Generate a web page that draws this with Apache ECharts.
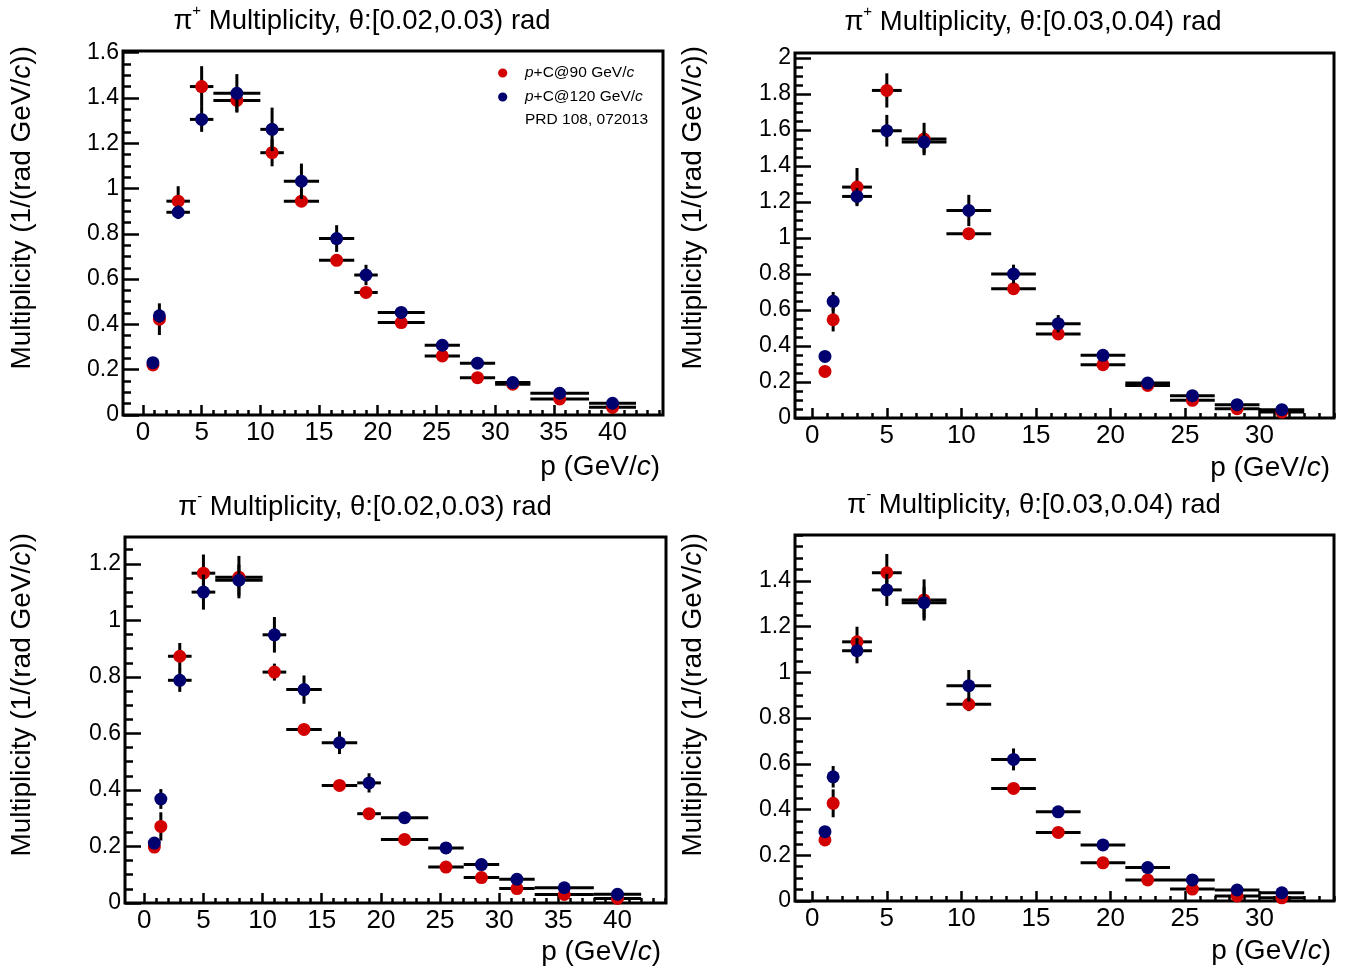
<!DOCTYPE html>
<html>
<head>
<meta charset="utf-8">
<script src="https://cdn.jsdelivr.net/npm/echarts@6/dist/echarts.min.js"></script>
<style>
  html, body { margin: 0; padding: 0; background: #fff; }
  #chart { width: 1357px; height: 970px; }
</style>
</head>
<body>
<div id="chart"></div>
<script>
// ---------------- DATA ----------------
// Panel 1: pi+ , theta [0.02,0.03)
const p1Lo   = [0.6, 1.1, 2, 4, 6, 10, 12, 15, 18, 20, 24, 27, 30, 33, 38];
const p1Hi   = [1.1, 1.7, 4, 6, 10, 12, 15, 18, 20, 24, 27, 30, 33, 38, 42];
const p1Y90  = [0.221, 0.423, 0.944, 1.450, 1.389, 1.158, 0.944, 0.683, 0.541, 0.408, 0.261, 0.165, 0.136, 0.071, 0.034];
const p1E90  = [0.010, 0.070, 0.066, 0.090, 0.050, 0.060, 0.020, 0.020, 0.018, 0.015, 0.012, 0.010, 0.008, 0.005, 0.004];
const p1Y120 = [0.231, 0.438, 0.895, 1.305, 1.420, 1.261, 1.032, 0.779, 0.618, 0.453, 0.308, 0.229, 0.143, 0.096, 0.052];
const p1E120 = [0.010, 0.030, 0.030, 0.055, 0.085, 0.096, 0.078, 0.059, 0.045, 0.020, 0.015, 0.012, 0.010, 0.008, 0.006];

// Panel 2: pi+ , theta [0.03,0.04)
const p2Lo   = [0.6, 1.1, 2, 4, 6, 9, 12, 15, 18, 21, 24, 27, 30];
const p2Hi   = [1.1, 1.7, 4, 6, 9, 12, 15, 18, 21, 24, 27, 30, 33];
const p2Y90  = [0.259, 0.546, 1.283, 1.820, 1.550, 1.024, 0.718, 0.467, 0.296, 0.181, 0.098, 0.052, 0.033];
const p2E90  = [0.010, 0.065, 0.106, 0.095, 0.090, 0.030, 0.020, 0.020, 0.015, 0.010, 0.008, 0.006, 0.005];
const p2Y120 = [0.342, 0.648, 1.231, 1.596, 1.533, 1.153, 0.800, 0.524, 0.348, 0.194, 0.124, 0.074, 0.046];
const p2E120 = [0.010, 0.052, 0.046, 0.088, 0.060, 0.087, 0.052, 0.048, 0.025, 0.015, 0.010, 0.008, 0.006];

// Panel 3: pi- , theta [0.02,0.03)
const p3Lo   = [0.6, 1.1, 2, 4, 6, 10, 12, 15, 18, 20, 24, 27, 30, 33, 38];
const p3Hi   = [1.1, 1.7, 4, 6, 10, 12, 15, 18, 20, 24, 27, 30, 33, 38, 42];
const p3Y90  = [0.198, 0.271, 0.873, 1.167, 1.153, 0.817, 0.614, 0.416, 0.316, 0.225, 0.127, 0.090, 0.051, 0.030, 0.016];
const p3E90  = [0.010, 0.050, 0.047, 0.066, 0.075, 0.030, 0.020, 0.015, 0.012, 0.010, 0.008, 0.006, 0.005, 0.004, 0.003];
const p3Y120 = [0.212, 0.368, 0.788, 1.100, 1.142, 0.949, 0.755, 0.567, 0.425, 0.302, 0.195, 0.136, 0.084, 0.054, 0.031];
const p3E120 = [0.010, 0.035, 0.041, 0.062, 0.055, 0.063, 0.050, 0.040, 0.034, 0.015, 0.010, 0.008, 0.006, 0.005, 0.004];

// Panel 4: pi- , theta [0.03,0.04)
const p4Lo   = [0.6, 1.1, 2, 4, 6, 9, 12, 15, 18, 21, 24, 27, 30];
const p4Hi   = [1.1, 1.7, 4, 6, 9, 12, 15, 18, 21, 24, 27, 30, 33];
const p4Y90  = [0.267, 0.427, 1.133, 1.435, 1.316, 0.860, 0.492, 0.300, 0.167, 0.092, 0.052, 0.022, 0.014];
const p4E90  = [0.020, 0.061, 0.066, 0.082, 0.090, 0.030, 0.020, 0.015, 0.010, 0.008, 0.006, 0.004, 0.003];
const p4Y120 = [0.303, 0.543, 1.094, 1.360, 1.304, 0.941, 0.619, 0.390, 0.245, 0.146, 0.092, 0.048, 0.036];
const p4E120 = [0.010, 0.047, 0.055, 0.070, 0.068, 0.069, 0.048, 0.020, 0.015, 0.010, 0.008, 0.006, 0.005];

// Tick labels
const xTicksWide   = [0, 5, 10, 15, 20, 25, 30, 35, 40];
const xTicksNarrow = [0, 5, 10, 15, 20, 25, 30];
const yTicks1 = [0, 0.2, 0.4, 0.6, 0.8, 1, 1.2, 1.4, 1.6];
const yTicks2 = [0, 0.2, 0.4, 0.6, 0.8, 1, 1.2, 1.4, 1.6, 1.8, 2];
const yTicks3 = [0, 0.2, 0.4, 0.6, 0.8, 1, 1.2];
const yTicks4 = [0, 0.2, 0.4, 0.6, 0.8, 1, 1.2, 1.4];

const titles = [
  ['+', ' Multiplicity, θ:[0.02,0.03) rad'],
  ['+', ' Multiplicity, θ:[0.03,0.04) rad'],
  ['-', ' Multiplicity, θ:[0.02,0.03) rad'],
  ['-', ' Multiplicity, θ:[0.03,0.04) rad']
];
const name90 = 'p+C@90 GeV/c';
const name120 = 'p+C@120 GeV/c';
const refText = 'PRD 108, 072013';

// ---------------- LAYOUT / STYLE ----------------
const FONT = 'Liberation Sans';
const RED = '#d20000';
const BLUE = '#00006e';
const F = (size, italic) => (italic ? 'italic ' : '') + size + 'px "' + FONT + '"';

const panels = [
  { grid: {left: 123, top: 51, width: 540, height: 364}, xMin: -1.70, xMax: 44.3, yMax: 1.607, xT: xTicksWide,   yT: yTicks1,
    lo: p1Lo, hi: p1Hi, y90: p1Y90, e90: p1E90, y120: p1Y120, e120: p1E120,
    title: [362, 19], xName: [660, 467], yName: [22, 46] },
  { grid: {left: 795, top: 53, width: 539, height: 365}, xMin: -1.16, xMax: 35.0, yMax: 2.028, xT: xTicksNarrow, yT: yTicks2,
    lo: p2Lo, hi: p2Hi, y90: p2Y90, e90: p2E90, y120: p2Y120, e120: p2E120,
    title: [1033, 20], xName: [1330, 468], yName: [693, 46] },
  { grid: {left: 125, top: 537, width: 541, height: 366}, xMin: -1.63, xMax: 44.1, yMax: 1.295, xT: xTicksWide,   yT: yTicks3,
    lo: p3Lo, hi: p3Hi, y90: p3Y90, e90: p3E90, y120: p3Y120, e120: p3E120,
    title: [365, 505], xName: [661, 952], yName: [22, 533] },
  { grid: {left: 795, top: 535, width: 539, height: 366}, xMin: -1.16, xMax: 35.0, yMax: 1.6, xT: xTicksNarrow, yT: yTicks4,
    lo: p4Lo, hi: p4Hi, y90: p4Y90, e90: p4E90, y120: p4Y120, e120: p4E120,
    title: [1034, 503], xName: [1331, 951], yName: [693, 533] }
];

function range(a, b, step) {
  const out = [];
  for (let v = a; v <= b + 1e-9; v += step) out.push(Math.round(v * 1000) / 1000);
  return out;
}

const grids = [], xAxes = [], yAxes = [], series = [], graphics = [];

function errRender(params, api) {
  const x = api.value(0), y = api.value(1), lo = api.value(2), hi = api.value(3), e = api.value(4);
  const pL = api.coord([lo, y]), pR = api.coord([hi, y]);
  const pB = api.coord([x, y - e]), pT = api.coord([x, y + e]);
  const st = { stroke: '#000', lineWidth: 3 };
  return { type: 'group', children: [
    { type: 'line', shape: { x1: pL[0], y1: pL[1], x2: pR[0], y2: pR[1] }, style: st },
    { type: 'line', shape: { x1: pB[0], y1: pB[1], x2: pT[0], y2: pT[1] }, style: st }
  ]};
}

panels.forEach((p, i) => {
  grids.push(Object.assign({
    show: true, borderColor: '#000', borderWidth: 3, backgroundColor: 'transparent',
    containLabel: false, outerBoundsMode: 'none'
  }, p.grid));

  const xMajor = 2 * i, yMajor = 2 * i;
  const common = { type: 'value', gridIndex: i, axisLine: { show: false, onZero: false }, splitLine: { show: false } };
  // major x axis
  xAxes.push(Object.assign({}, common, {
    position: 'bottom', min: p.xMin, max: p.xMax,
    axisTick: { show: true, inside: true, length: 10, customValues: p.xT, lineStyle: { color: '#000', width: 2.5 } },
    axisLabel: { show: true, customValues: p.xT, color: '#000', fontFamily: FONT, fontSize: 26, margin: 5,
                 formatter: v => String(Math.round(v)) }
  }));
  // minor x axis
  xAxes.push(Object.assign({}, common, {
    position: 'bottom', min: p.xMin, max: p.xMax,
    axisTick: { show: true, inside: true, length: 5, customValues: range(0, Math.floor(p.xMax), 1), lineStyle: { color: '#000', width: 2.5 } },
    axisLabel: { show: false }
  }));
  // major y axis
  yAxes.push(Object.assign({}, common, {
    position: 'left', min: 0, max: p.yMax,
    axisTick: { show: true, inside: true, length: 16, customValues: p.yT, lineStyle: { color: '#000', width: 2.5 } },
    axisLabel: { show: true, customValues: p.yT, color: '#000', fontFamily: FONT, fontSize: 23, margin: 4,
                 formatter: v => String(+(+v).toFixed(2)) }
  }));
  // minor y axis
  yAxes.push(Object.assign({}, common, {
    position: 'left', min: 0, max: p.yMax,
    axisTick: { show: true, inside: true, length: 8, customValues: range(0, p.yMax, 0.05), lineStyle: { color: '#000', width: 2.5 } },
    axisLabel: { show: false }
  }));

  const centers = p.lo.map((l, k) => (l + p.hi[k]) / 2);
  const sets = [
    { name: name90, y: p.y90, e: p.e90, color: RED, z: 2 },
    { name: name120, y: p.y120, e: p.e120, color: BLUE, z: 4 }
  ];
  sets.forEach(s => {
    series.push({
      type: 'custom', name: 'err ' + s.name, xAxisIndex: xMajor, yAxisIndex: yMajor,
      silent: true, z: s.z, clip: false,
      encode: { x: 0, y: 1 },
      data: centers.map((c, k) => [c, s.y[k], p.lo[k], p.hi[k], s.e[k]]),
      renderItem: errRender
    });
    series.push({
      type: 'scatter', name: s.name, xAxisIndex: xMajor, yAxisIndex: yMajor,
      silent: true, z: s.z + 1, symbol: 'circle', symbolSize: 13,
      itemStyle: { color: s.color, opacity: 1 },
      data: centers.map((c, k) => [c, s.y[k]])
    });
  });

  // Title
  graphics.push({
    type: 'text', x: p.title[0], y: p.title[1],
    style: {
      text: '{n|π}{s|' + titles[i][0] + '}{n|' + titles[i][1] + '}',
      textAlign: 'center', textVerticalAlign: 'middle', fill: '#000',
      font: F(27.5),
      rich: {
        n: { font: F(27.5), fill: '#000', lineHeight: 32, textVerticalAlign: 'bottom' },
        s: { font: F(15), fill: '#000', lineHeight: 32, textVerticalAlign: 'top' }
      }
    }
  });
  // x axis name
  graphics.push({
    type: 'text', x: p.xName[0], y: p.xName[1],
    style: {
      text: '{n|p (GeV/}{i|c}{n|)}',
      textAlign: 'right', textVerticalAlign: 'middle', fill: '#000',
      font: F(28),
      rich: { n: { font: F(28), fill: '#000' }, i: { font: F(28, true), fill: '#000' } }
    }
  });
  // y axis name
  graphics.push({
    type: 'text', x: p.yName[0], y: p.yName[1], rotation: Math.PI / 2,
    style: {
      text: '{n|Multiplicity (1/(rad GeV/}{i|c}{n|))}',
      textAlign: 'right', textVerticalAlign: 'middle', fill: '#000',
      font: F(28),
      rich: { n: { font: F(28), fill: '#000' }, i: { font: F(28, true), fill: '#000' } }
    }
  });
});

// Legend (drawn as graphic marks + text)
const legendRows = [
  { color: RED,  text: '{i|p}{n|+C@90 GeV/}{i|c}',  y: 73 },
  { color: BLUE, text: '{i|p}{n|+C@120 GeV/}{i|c}', y: 97 }
];
legendRows.forEach(r => {
  graphics.push({ type: 'circle', shape: { cx: 502.7, cy: r.y, r: 4.6 }, style: { fill: r.color }, z: 10 });
  graphics.push({
    type: 'text', x: 525, y: r.y, z: 10,
    style: {
      text: r.text, textAlign: 'left', textVerticalAlign: 'middle', fill: '#000', font: F(15.5),
      rich: { n: { font: F(15.5), fill: '#000' }, i: { font: F(15.5, true), fill: '#000' } }
    }
  });
});
graphics.push({
  type: 'text', x: 525, y: 120, z: 10,
  style: { text: refText, textAlign: 'left', textVerticalAlign: 'middle', fill: '#000', font: F(15.5) }
});

const chart = echarts.init(document.getElementById('chart'), null, { renderer: 'canvas' });
chart.setOption({
  animation: false,
  backgroundColor: '#fff',
  textStyle: { fontFamily: FONT },
  grid: grids,
  xAxis: xAxes,
  yAxis: yAxes,
  graphic: { elements: graphics },
  series: series
});
</script>
</body>
</html>
